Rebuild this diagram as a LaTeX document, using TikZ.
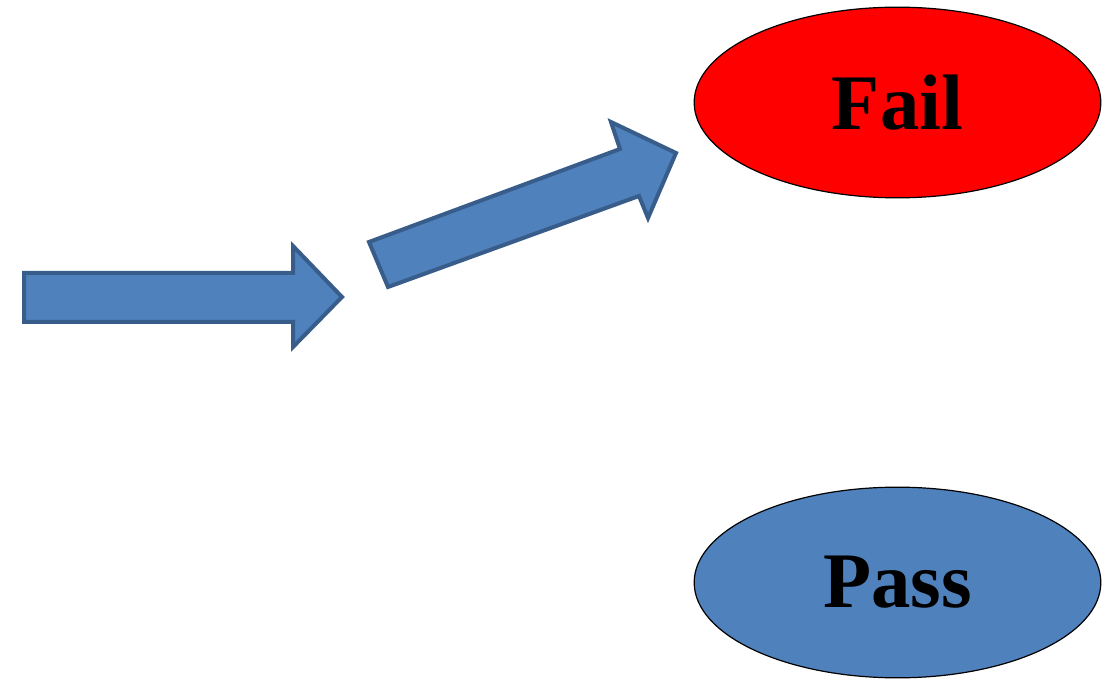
\documentclass[tikz,border=0pt]{standalone}
\usepackage{fontspec}
\setmainfont{Liberation Serif}
\usetikzlibrary{shapes.geometric}
\definecolor{arrowfill}{HTML}{4F81BD}
\definecolor{arrowline}{HTML}{385D8A}
\definecolor{failred}{HTML}{FF0000}
\tikzset{
  blockarrow/.style={fill=arrowfill, draw=arrowline, line width=3pt, line join=miter},
  result/.style={ellipse, draw=black, line width=0.9pt, minimum width=305pt, minimum height=143pt, inner sep=0pt,
    font=\fontsize{59}{60}\selectfont\bfseries},
}
\begin{document}
\begin{tikzpicture}[x=0.75pt, y=-0.75pt]
\useasboundingbox (0,0) rectangle (1117,680);
% straight block arrow
\draw[blockarrow] (24,273) -- (293,273) -- (293,246) -- (342,297) -- (293,347) -- (293,322) -- (24,322) -- cycle;
% slanted block arrow
\draw[blockarrow] (388,287) -- (369,242) -- (620,149) -- (611,122) -- (676,153) -- (648,218) -- (639,196) -- cycle;
\node[result, fill=failred] (fail) at (897.5,102.5) {Fail};
\node[result, fill=arrowfill] (pass) at (897.5,582.5) {Pass};
\end{tikzpicture}
\end{document}
